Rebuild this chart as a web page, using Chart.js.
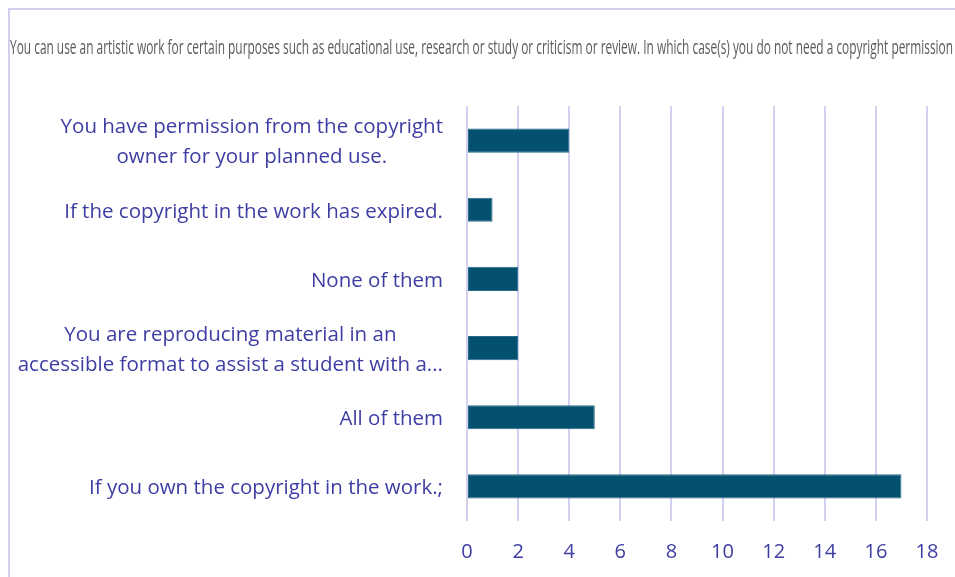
<!DOCTYPE html>
<html>
<head>
<meta charset="utf-8">
<script src="https://cdn.jsdelivr.net/npm/chart.js@4"></script>
<style>
  html, body { margin: 0; padding: 0; background: #fff; }
  #wrap { position: relative; width: 955px; height: 577px; }
</style>
</head>
<body>
<div id="wrap"><canvas id="graficoPermisos"></canvas></div>
<script>
// titulo de la pregunta
const titulo = 'You can use an artistic work for certain purposes such as educational use, research or study or criticism or review. In which case(s) you do not need a copyright permission';

// respuestas (de arriba hacia abajo)
const categorias = [
    ['You have permission from the copyright', 'owner for your planned use.'],
    'If the copyright in the work has expired.',
    'None of them',
    ['You are reproducing material in an', 'accessible format to assist a student with a...'],
    'All of them',
    'If you own the copyright in the work.;'
];

// cantidad de respuestas
const respuestas = [4, 1, 2, 2, 5, 17];

// marcas del eje x
const ejeMin = 0;
const ejeMax = 18;
const ejePaso = 2;

const colorTexto = '#3d3da3';
const colorGrilla = '#d3d0f0';
const fuente = "'Open Sans', sans-serif";

// marco lila y titulo angosto arriba
const marcoYTitulo = {
    id: 'marcoYTitulo',
    beforeDraw(chart) {
        const ctx = chart.ctx;
        ctx.save();
        ctx.strokeStyle = '#d2cff0';
        ctx.lineWidth = 2;
        ctx.beginPath();
        ctx.moveTo(9, chart.height + 2);
        ctx.lineTo(9, 9);
        ctx.lineTo(chart.width + 2, 9);
        ctx.stroke();

        ctx.font = '20px ' + fuente;
        ctx.fillStyle = '#5a5a5a';
        ctx.textBaseline = 'middle';
        const ancho = ctx.measureText(titulo).width;
        const escala = Math.min(1, 943 / ancho);
        ctx.translate(10, 48);
        ctx.scale(escala, 1);
        ctx.fillText(titulo, 0, 0);
        ctx.restore();
    }
};

// etiquetas del eje y: bloque alineado a la derecha, lineas centradas
const etiquetasY = {
    id: 'etiquetasY',
    afterDraw(chart) {
        const ctx = chart.ctx;
        const escalaY = chart.scales.y;
        const bordeDer = chart.chartArea.left - 24;
        ctx.save();
        ctx.font = '20.5px ' + fuente;
        ctx.fillStyle = colorTexto;
        ctx.textAlign = 'center';
        ctx.textBaseline = 'middle';
        categorias.forEach((cat, i) => {
            const lineas = Array.isArray(cat) ? cat : [cat];
            const anchoBloque = Math.max(...lineas.map(l => ctx.measureText(l).width));
            const xc = bordeDer - anchoBloque / 2;
            const yc = escalaY.getPixelForTick(i) + 2;
            lineas.forEach((l, j) => {
                ctx.fillText(l, xc, yc + (j - (lineas.length - 1) / 2) * 30);
            });
        });
        ctx.restore();
    }
};

const ctx = document.getElementById('graficoPermisos').getContext('2d');

new Chart(ctx, {
    type: 'bar',
    data: {
        labels: categorias,
        datasets: [{
            label: 'Respuestas',
            data: respuestas,
            backgroundColor: '#03506f',
            borderColor: '#2a6a88',
            borderWidth: 1,
            borderSkipped: false,
            categoryPercentage: 1,
            barPercentage: 0.35
        }]
    },
    options: {
        indexAxis: 'y',
        responsive: true,
        maintainAspectRatio: false,
        animation: false,
        layout: { padding: { top: 106, right: 28, left: 0, bottom: 0 } },
        plugins: {
            legend: { display: false },
            title: { display: false },
            tooltip: { enabled: false }
        },
        scales: {
            x: {
                min: ejeMin,
                max: ejeMax,
                ticks: {
                    stepSize: ejePaso,
                    color: colorTexto,
                    font: { family: fuente, size: 20 },
                    padding: 19
                },
                grid: { color: colorGrilla, lineWidth: 2, drawTicks: false },
                border: { display: false },
                afterFit(scale) {
                    scale.height = 56;
                    scale.paddingLeft = 0;
                    scale.paddingRight = 0;
                }
            },
            y: {
                ticks: { display: false },
                grid: { display: false },
                border: { display: false },
                afterFit(scale) { scale.width = 467; }
            }
        }
    },
    plugins: [marcoYTitulo, etiquetasY]
});
</script>
</body>
</html>
